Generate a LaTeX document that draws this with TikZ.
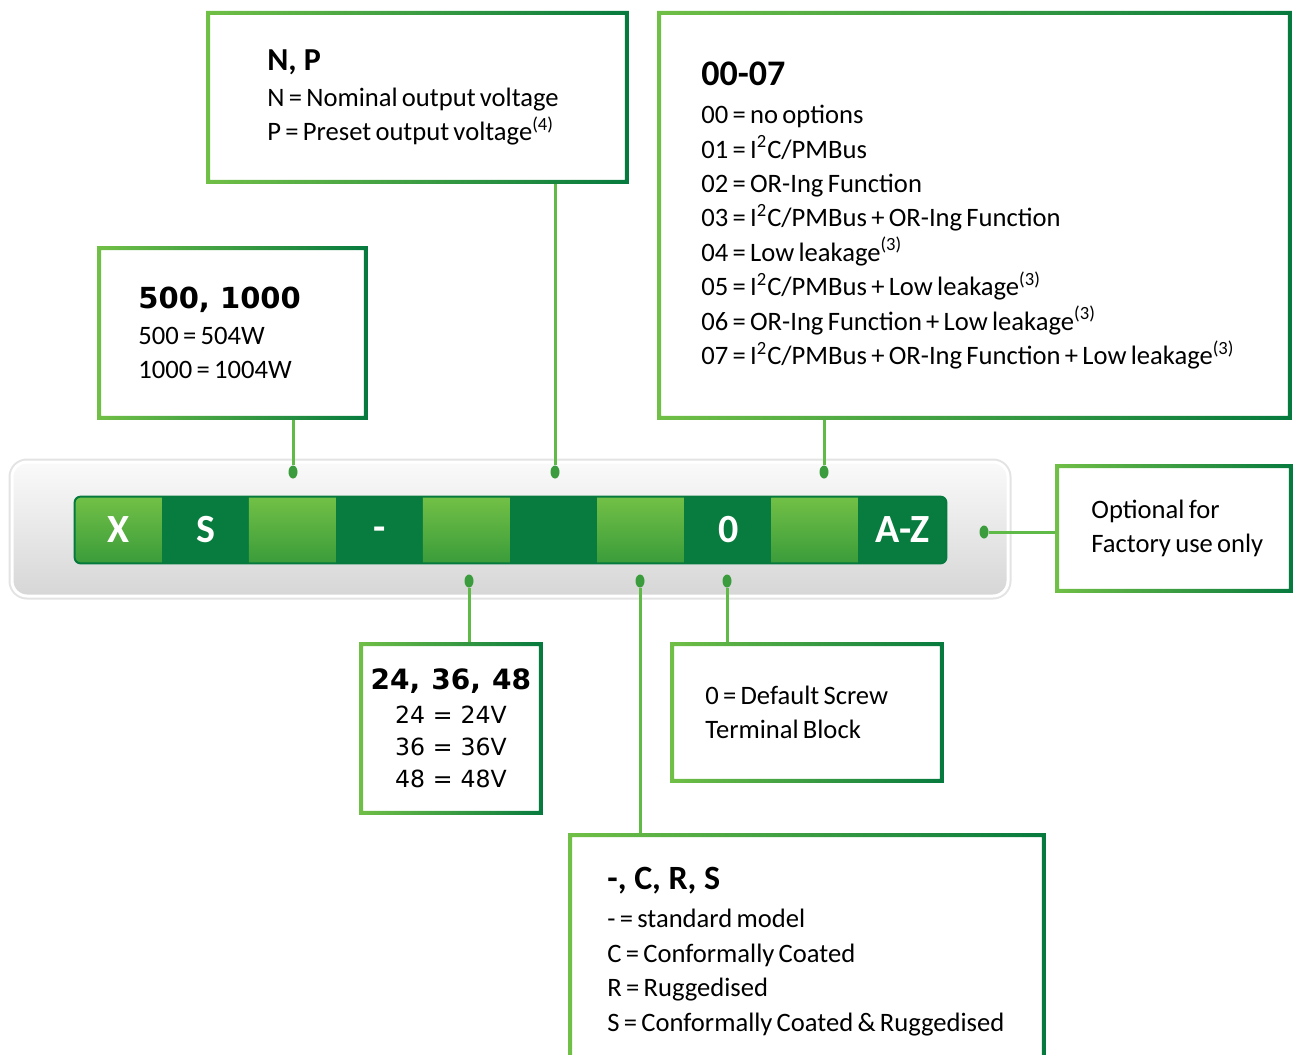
\documentclass[tikz,border=0pt]{standalone}
\usepackage{fontspec}
\setmainfont{Carlito}
\newfontfamily\verdfont{DejaVu Sans}
\usetikzlibrary{shapes.geometric}

\definecolor{gL}{RGB}{112,191,70}
\definecolor{gD}{RGB}{6,122,62}
\definecolor{lineG}{RGB}{96,186,72}
\definecolor{beadG}{RGB}{58,156,60}
\definecolor{cellL}{RGB}{114,192,70}
\definecolor{cellLb}{RGB}{58,156,58}
\definecolor{cellD}{RGB}{8,124,62}

\newcommand{\hd}[2][18]{{\bfseries\fontsize{#1}{#1}\selectfont\spaceskip=0pt\relax #2}}
\newcommand{\hdv}[2][14.5]{{\verdfont\bfseries\fontsize{#1}{#1}\selectfont\spaceskip=0pt\relax #2}}
\newcommand{\ind}[1]{\leftskip=#1\relax\spaceskip=0.16em plus 0.05em\relax}
\newcommand{\greenframe}[1]{%
  \shade[left color=gL, right color=gD, even odd rule]
    (#1.north west) rectangle (#1.south east)
    ([shift={(2pt,-2pt)}]#1.north west) rectangle ([shift={(-2pt,2pt)}]#1.south east);}

\tikzset{
  infobox/.style={rectangle, anchor=north west, align=left, inner sep=0pt,
    text width=#1, font=\fontsize{13.3}{17.2}\selectfont},
  panel/.style={rectangle, rounded corners=7.5pt, top color=gray!4, bottom color=gray!32,
    draw=white, line width=1.5pt, preaction={draw=gray!22, line width=3.5pt}},
  strip/.style={rectangle, fill=gD, rounded corners=3pt, inner sep=0pt},
  cell/.style={rectangle, inner sep=0pt, minimum width=44pt, minimum height=33pt,
    text=white, font=\bfseries\fontsize{20}{20}\selectfont},
  lightcell/.style={top color=cellL, bottom color=cellLb},
  darkcell/.style={fill=cellD},
  bead/.style={ellipse, fill=beadG, inner sep=0pt, minimum width=4.5pt, minimum height=6.5pt},
  link/.style={draw=lineG, line width=1.5pt}
}

\begin{document}
\begin{tikzpicture}[x=0.5pt, y=-0.5pt]
  \useasboundingbox (0,0) rectangle (1293,1054);
  \clip (0,0) rectangle (1293,1054);

  \node[panel, minimum width=498pt, minimum height=67pt] (panel) at (510,529) {};
  \node[strip, minimum width=435.5pt, minimum height=33pt] (strip) at (510.5,530) {};
  \begin{scope}
    \clip[rounded corners=3pt] (strip.north west) rectangle (strip.south east);
    \foreach \lab [count=\i] in {X,S,{},\smash{\raisebox{-5pt}{-}},{},{},{},0,{},A-Z}{
      \ifodd\i
        \node[cell, lightcell] (c\i) at ({75+87.1*(\i-0.5)},530) {\lab};
      \else
        \node[cell, darkcell] (c\i) at ({75+87.1*(\i-0.5)},530) {\lab};
      \fi
    }
  \end{scope}
  \draw[gD, line width=1pt, rounded corners=3pt] (strip.north west) rectangle (strip.south east);

  \node[bead] (dWatt) at (293,472) {};
  \node[bead] (dSet) at (555,472) {};
  \node[bead] (dOpt) at (824,472) {};
  \node[bead] (dVolt) at (469,581) {};
  \node[bead] (dCoat) at (640,581) {};
  \node[bead] (dTerm) at (727,581) {};
  \node[bead] (dFac) at (984,532) {};

  \node[infobox=135pt, minimum height=86.5pt] (b500) at (97,246)
    {\ind{20.5pt}\hdv{500, 1000}\\[1pt] 500 = 504W\\ 1000 = 1004W\par};
  \node[infobox=211pt, minimum height=86pt] (bNP) at (206,11)
    {\ind{30.5pt}\hd[16]{N, P}\\[1pt] N = Nominal output voltage\\ P = Preset output voltage\textsuperscript{(4)}\par};
  \node[infobox=317pt, minimum height=204pt] (bOpt) at (657,11)
    {\ind{22pt}\hd{00-07}\\[2pt]
     00 = no options\\
     01 = I\textsuperscript{2}C/PMBus\\
     02 = OR-Ing Function\\
     03 = I\textsuperscript{2}C/PMBus + OR-Ing Function\\
     04 = Low leakage\textsuperscript{(3)}\\
     05 = I\textsuperscript{2}C/PMBus + Low leakage\textsuperscript{(3)}\\
     06 = OR-Ing Function + Low leakage\textsuperscript{(3)}\\
     07 = I\textsuperscript{2}C/PMBus + OR-Ing Function + Low leakage\textsuperscript{(3)}\par};
  \node[infobox=118.5pt, minimum height=64pt] (bFac) at (1055,464)
    {\ind{18pt}Optional for\\ Factory use only\par};
  \node[infobox=91.5pt, minimum height=86pt, align=center,
    font=\verdfont\fontsize{11.8}{16}\selectfont] (bV) at (359,642)
    {\hdv[14]{24, 36, 48}\\[1pt] 24 = 24V\\ 36 = 36V\\ 48 = 48V};
  \node[infobox=136.5pt, minimum height=70pt] (bTerm) at (670,642)
    {\ind{17.5pt}0 = Default Screw\\ Terminal Block\par};
  \node[infobox=238.5pt, minimum height=118pt] (bCoat) at (568,833)
    {\ind{19.5pt}\hd[17]{-, C, R, S}\\[2pt]
     - = standard model\\
     C = Conformally Coated\\
     R = Ruggedised\\
     S = Conformally Coated \& Ruggedised\par};

  \greenframe{b500}
  \greenframe{bNP}
  \greenframe{bOpt}
  \greenframe{bFac}
  \greenframe{bV}
  \greenframe{bTerm}
  \greenframe{bCoat}

  \draw[link] (b500.south -| dWatt) -- (dWatt.north);
  \draw[link] (bNP.south -| dSet) -- (dSet.north);
  \draw[link] (bOpt.south -| dOpt) -- (dOpt.north);
  \draw[link] (dVolt.south) -- (dVolt |- bV.north);
  \draw[link] (dCoat.south) -- (dCoat |- bCoat.north);
  \draw[link] (dTerm.south) -- (dTerm |- bTerm.north);
  \draw[link] (dFac.east) -- (dFac -| bFac.west);
\end{tikzpicture}
\end{document}
